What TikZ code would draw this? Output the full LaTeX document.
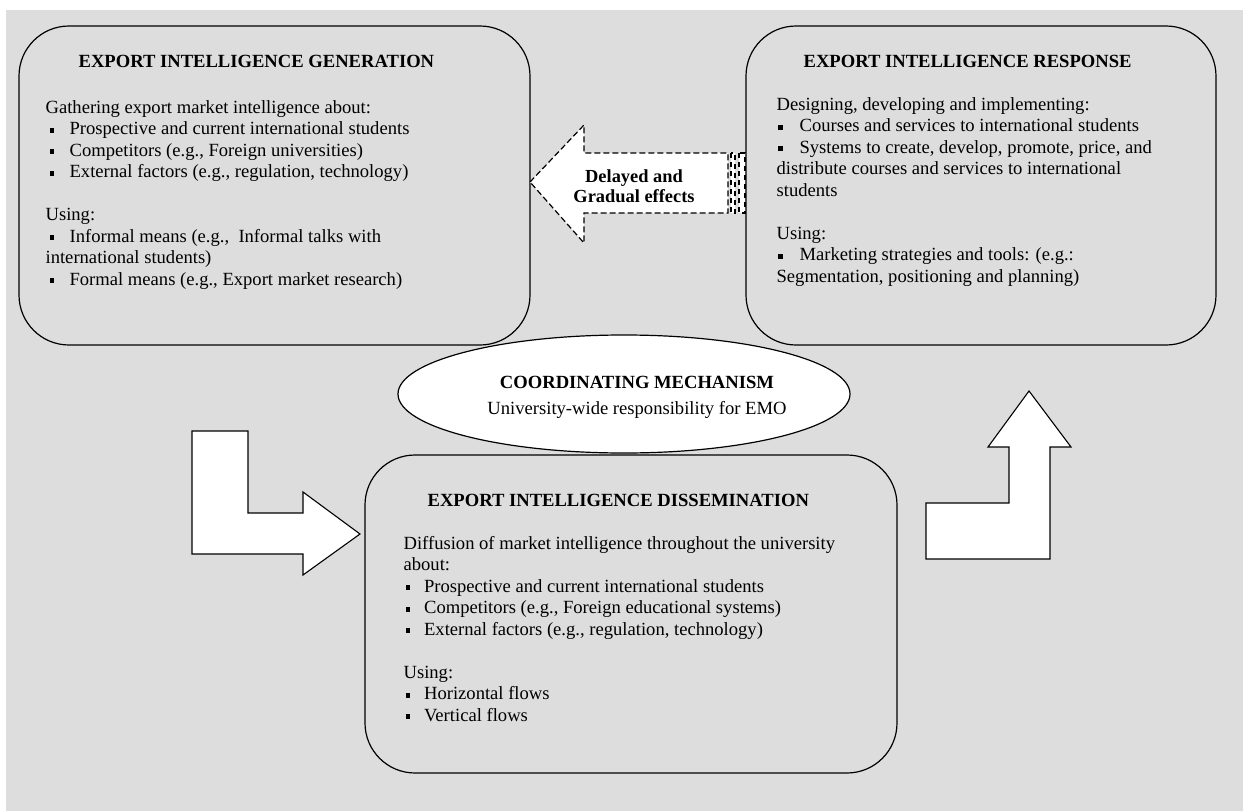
\documentclass[tikz,border=0pt]{standalone}
\usepackage{fontspec}
\setmainfont{Liberation Serif}
\usetikzlibrary{shapes.geometric}
\definecolor{panelgray}{HTML}{DDDDDD}
\newcommand{\sqbul}[2]{\makebox[#2][l]{\hspace{#1}\rule[2pt]{4.8pt}{4.8pt}}}

\begin{document}
\begin{tikzpicture}[x=1pt,y=-1pt,line width=1.2pt,
		infobox/.style={draw,rounded corners=50pt,inner sep=0pt},
		txt/.style={anchor=base west,inner sep=0pt,align=left,font=\fontsize{18.6}{21.5}\selectfont},
		blockarrow/.style={draw,fill=white,line width=1.1pt,line join=miter},
		dasharrow/.style={draw,fill=white,line width=1.2pt,dash pattern=on 6pt off 3pt}]
	\useasboundingbox (0,0) rectangle (1243,811);
	\fill[white] (0,0) rectangle (1243,811);
	\fill[panelgray] (6,10) rectangle (1243,811);
	% the three boxes
	\node[infobox,minimum width=511pt,minimum height=319pt] (gen) at (274.5,185.5) {};
	\node[infobox,minimum width=470pt,minimum height=319pt] (resp) at (981,185.5) {};
	\node[infobox,minimum width=532pt,minimum height=318pt] (diss) at (631,614) {};
	% coordinating mechanism
	\node[draw,ellipse,fill=white,minimum width=452pt,minimum height=118pt] (coord) at (624,394) {};
	\node[anchor=base,inner sep=0pt,font=\fontsize{18.6}{21.5}\selectfont\bfseries] (coordtitle) at (637,388) {COORDINATING MECHANISM};
	\node[anchor=base,inner sep=0pt,font=\fontsize{18.6}{21.5}\selectfont] (coordsub) at (637,414) {University-wide responsibility for EMO};
	% delayed effects arrow
	\path[dasharrow] (530,182) -- (584,125) -- (584,153) -- (728,153) -- (728,213) -- (584,213) -- (584,243) -- cycle;
	\path[dasharrow,dash pattern=on 5pt off 4pt] (731,153) rectangle (735,213);
	\path[dasharrow,dash pattern=on 5pt off 4pt] (739,153) rectangle (745,213);
	\node[anchor=base,inner sep=0pt,align=center,font=\fontsize{18.4}{20}\selectfont\bfseries] (delay) at (634,202) {Delayed and\\Gradual effects};
	% block arrows
	\path[blockarrow] (192,431) -- (248,431) -- (248,513) -- (303,513) -- (303,492) -- (360,534) -- (303,575) -- (303,554) -- (192,554) -- cycle;
	\path[blockarrow] (926,559) -- (1050,559) -- (1050,447) -- (1071,447) -- (1029,391) -- (988,447) -- (1009,447) -- (1009,503) -- (926,503) -- cycle;
	% generation
	\node[txt] (gentitle) at (78,67) {\textbf{EXPORT INTELLIGENCE GENERATION}};
	\node[txt] (genbody) at (45,285) {Gathering export market intelligence about:\\
		\sqbul{4pt}{24pt}Prospective and current international students\\
		\sqbul{4pt}{24pt}Competitors (e.g., Foreign universities)\\
		\sqbul{4pt}{24pt}External factors (e.g., regulation, technology)\\[21.5pt]
		Using:\\
		\sqbul{4pt}{24pt}Informal means (e.g.,\ \ Informal talks with\\
		international students)\\
		\sqbul{4pt}{24pt}Formal means (e.g., Export market research)};
	% response
	\node[txt] (resptitle) at (803,67) {\textbf{EXPORT INTELLIGENCE RESPONSE}};
	\node[txt] (respbody) at (776,282) {Designing, developing and implementing:\\
		\sqbul{1.5pt}{23pt}Courses and services to international students\\
		\sqbul{1.5pt}{23pt}Systems to create, develop, promote, price, and\\
		distribute courses and services to international\\
		students\\[21.5pt]
		Using:\\
		\sqbul{1.5pt}{23pt}Marketing strategies and tools: (e.g.:\\
		Segmentation, positioning and planning)};
	% dissemination
	\node[txt] (disstitle) at (427,506) {\textbf{EXPORT INTELLIGENCE DISSEMINATION}};
	\node[txt] (dissbody) at (403,721) {Diffusion of market intelligence throughout the university\\
		about:\\
		\sqbul{2pt}{20.5pt}Prospective and current international students\\
		\sqbul{2pt}{20.5pt}Competitors (e.g., Foreign educational systems)\\
		\sqbul{2pt}{20.5pt}External factors (e.g., regulation, technology)\\[21.5pt]
		Using:\\
		\sqbul{2pt}{20.5pt}Horizontal flows\\
		\sqbul{2pt}{20.5pt}Vertical flows};
\end{tikzpicture}
\end{document}
